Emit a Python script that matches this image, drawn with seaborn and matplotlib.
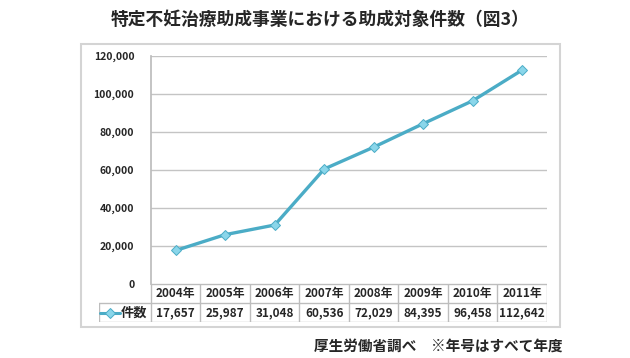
import numpy as np
import pandas as pd
import matplotlib.pyplot as plt
import seaborn as sns
from matplotlib.patches import Rectangle
from matplotlib.ticker import FuncFormatter

years = ["2004年", "2005年", "2006年", "2007年", "2008年", "2009年", "2010年", "2011年"]
counts = [17657, 25987, 31048, 60536, 72029, 84395, 96458, 112642]
series_name = "件数"
title = "特定不妊治療助成事業における助成対象件数（図3）"
note = "厚生労働省調べ　※年号はすべて年度"

sns.set_theme(style="white")
plt.rcParams['font.family'] = ['Noto Sans CJK JP', 'DejaVu Sans']

line_color = "#4bacc6"
marker_color = "#8ad6ea"
grid_color = "#c4c4c4"
W, H = 630, 358

fig = plt.figure(figsize=(6.3, 3.58), dpi=100)

def fig_box(left, top, right, bottom):
    return [left / W, 1 - bottom / H, (right - left) / W, (bottom - top) / H]

# outer frame
fig.patches.append(Rectangle((81 / W, 1 - 327 / H), 479 / W, 283 / H,
                             transform=fig.transFigure, fill=False,
                             edgecolor="#d4d4d4", lw=1.5))

# main line chart
ax = fig.add_axes(fig_box(151, 56, 547, 284))
df = pd.DataFrame({"year": years, "count": counts})
sns.lineplot(data=df, x="year", y="count", ax=ax, color=line_color, lw=2.4,
             marker="D", markersize=5.5, markerfacecolor=marker_color,
             markeredgecolor=line_color, markeredgewidth=0.7)
ax.set_xlim(-0.5, len(years) - 0.5)
ax.set_ylim(0, 120000)
ax.set_yticks(np.arange(0, 120001, 20000))
ax.yaxis.set_major_formatter(FuncFormatter(lambda v, p: f"{int(v):,}"))
ax.set_xticks([])
ax.set_xlabel("")
ax.set_ylabel("")
ax.grid(axis="y", color=grid_color, lw=1)
for s in ["top", "right", "bottom"]:
    ax.spines[s].set_visible(False)
ax.spines["left"].set_color("#bdbdbd")
ax.tick_params(axis="y", length=0, pad=12, labelsize=7.5)
for lab in ax.get_yticklabels():
    lab.set_fontweight("bold")

# data table under the chart
tab = fig.add_axes(fig_box(99, 284, 547, 322))
x0 = -1.55
tab.set_xlim(x0, len(years) - 0.5)
tab.set_ylim(0, 2)
tab.axis("off")
tc = "#bdbdbd"
n = len(years)
tab.plot([-0.5, n - 0.5], [2, 2], color=tc, lw=1)
tab.plot([x0, n - 0.5], [1, 1], color=tc, lw=1)
tab.plot([x0, n - 0.5], [0, 0], color=tc, lw=1)
for k in range(n + 1):
    tab.plot([-0.5 + k, -0.5 + k], [0, 2], color=tc, lw=1)
tab.plot([x0, x0], [0, 1], color=tc, lw=1)
for i, (yr, c) in enumerate(zip(years, counts)):
    tab.text(i, 1.5, yr, ha="center", va="center", fontsize=8.5, fontweight="bold")
    tab.text(i, 0.5, f"{c:,}", ha="center", va="center", fontsize=8.5, fontweight="bold")
tab.plot([-1.52, -1.13], [0.5, 0.5], color=line_color, lw=2.2)
tab.plot([-1.32], [0.5], marker="D", markersize=5, color=marker_color,
         markeredgecolor=line_color, markeredgewidth=0.7)
tab.text(-1.11, 0.5, series_name, ha="left", va="center", fontsize=9.5, fontweight="bold")

fig.text(320 / W, 1 - 20 / H, title, ha="center", va="center",
         fontsize=12.8, fontweight="bold")
fig.text(563 / W, 1 - 346 / H, note, ha="right", va="center",
         fontsize=10.5, fontweight="bold")

fig.savefig("out.png", dpi=100)
